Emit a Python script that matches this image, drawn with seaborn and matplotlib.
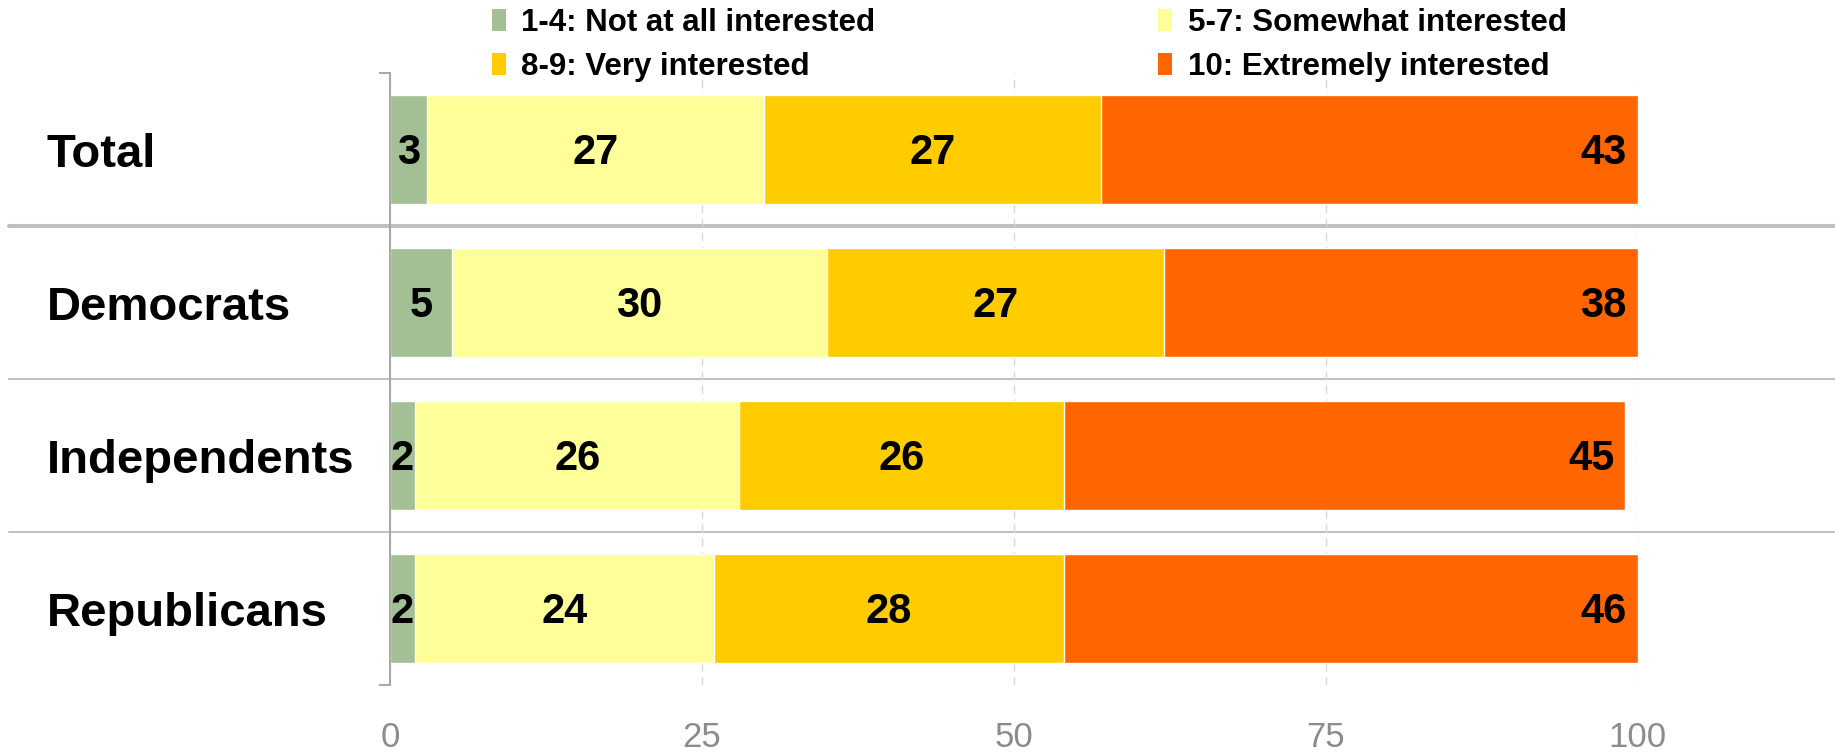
import numpy as np
import pandas as pd
import matplotlib
matplotlib.use('Agg')
import matplotlib.pyplot as plt
from matplotlib.patches import Patch
from matplotlib.transforms import blended_transform_factory
import seaborn as sns

sns.set_theme(style="white")
plt.rcParams['font.family'] = ['Liberation Sans', 'DejaVu Sans']

groups = ['Total', 'Democrats', 'Independents', 'Republicans']
series = ['1-4: Not at all interested', '5-7: Somewhat interested',
          '8-9: Very interested', '10: Extremely interested']
not_at_all = [3, 5, 2, 2]
somewhat = [27, 30, 26, 24]
very = [27, 27, 26, 28]
extremely = [43, 38, 45, 46]
colors = ['#A3BF94', '#FFFF99', '#FFCC00', '#FF6600']
xticks = [0, 25, 50, 75, 100]

vals = np.array([not_at_all, somewhat, very, extremely])
cum = vals.cumsum(axis=0)

fig = plt.figure(figsize=(18.35, 7.55), dpi=100)
ax = fig.add_axes([0.2125, 0.0927, 0.6801, 0.8106])

# stacked bars: draw cumulative totals from the longest down
for k in range(len(series) - 1, -1, -1):
    df = pd.DataFrame({'group': groups, 'cum': cum[k]})
    sns.barplot(data=df, x='cum', y='group', orient='h', order=groups,
                color=colors[k], saturation=1, width=0.71,
                edgecolor='white', linewidth=1, ax=ax)

# value labels
for i in range(len(groups)):
    for k in range(len(series)):
        start = cum[k][i] - vals[k][i]
        if k == len(series) - 1:
            ax.text(cum[k][i] - 0.9, i + 0.02, str(vals[k][i]), ha='right', va='center',
                    fontsize=30, fontweight='bold', color='black')
        else:
            ax.text(start + vals[k][i] / 2, i + 0.02, str(vals[k][i]), ha='center',
                    va='center', fontsize=30, fontweight='bold', color='black')

ax.set_xlim(0, 100)
ax.set_ylim(len(groups) - 0.5, -0.5)
ax.set_xlabel('')
ax.set_ylabel('')
ax.set_xticks(xticks)
ax.set_xticklabels([str(t) for t in xticks], color='#8C8C8C', fontsize=25)
ax.tick_params(axis='x', length=0, pad=26)

ax.set_yticks(range(len(groups)))
ax.set_yticklabels(groups, fontsize=34, fontweight='bold', ha='left', color='black')
ax.tick_params(axis='y', which='major', length=0, pad=247)
ax.set_yticks([-0.5, len(groups) - 0.5], minor=True)
ax.tick_params(axis='y', which='minor', length=8, width=1.4, color='#A6A6A6', left=True)
for lbl in ax.get_yticklabels():
    lbl.set_y(lbl.get_position()[1])
    lbl.set_va('center_baseline')

ax.set_axisbelow(True)
ax.xaxis.grid(True, color='#D9D9D9', linestyle=(0, (6, 4)), linewidth=1)
ax.yaxis.grid(False)
for s in ['top', 'right', 'bottom']:
    ax.spines[s].set_visible(False)
ax.spines['left'].set_color('#A6A6A6')
ax.spines['left'].set_linewidth(1.4)

# separators between groups
trans = blended_transform_factory(fig.transFigure, ax.transData)
for i in range(len(groups) - 1):
    ax.plot([0.005, 1.0], [i + 0.5, i + 0.5], transform=trans, clip_on=False,
            color='#BFBFBF', linewidth=2.9 if i == 0 else 1.4, zorder=0.5)

# legends
handles = [Patch(facecolor=c, edgecolor='none') for c in colors]
leg_kw = dict(frameon=False, handlelength=0.45, handleheight=0.7, handletextpad=0.5,
              labelspacing=0.46, borderpad=0, borderaxespad=0,
              prop={'weight': 'bold', 'size': 22.5})
leg1 = fig.legend([handles[0], handles[2]], [series[0], series[2]],
                  loc='upper left', bbox_to_anchor=(0.268, 0.99), **leg_kw)
leg2 = fig.legend([handles[1], handles[3]], [series[1], series[3]],
                  loc='upper left', bbox_to_anchor=(0.631, 0.99), **leg_kw)
for leg in (leg1, leg2):
    for t in leg.get_texts():
        t.set_color('black')

fig.savefig('out.png', dpi=100)
